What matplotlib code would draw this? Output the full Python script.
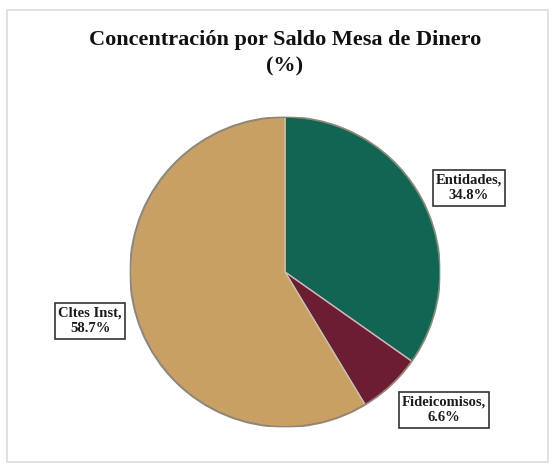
import matplotlib
matplotlib.use("Agg")
import matplotlib.pyplot as plt
from matplotlib.patches import Rectangle, Circle

categories = ["Entidades", "Fideicomisos", "Cltes Inst"]
values = [34.8, 6.6, 58.7]
colors = ["#136553", "#6d1d31", "#c9a064"]
title = "Concentración por Saldo Mesa de Dinero\n(%)"

W, H = 554, 466
fig = plt.figure(figsize=(W / 100, H / 100), dpi=100)
fig.patch.set_facecolor("white")

# outer chart frame
fig.patches.append(Rectangle((7 / W, 4 / H), 541 / W, 452 / H, transform=fig.transFigure,
                             fill=False, edgecolor="#dcdcdc", linewidth=1.2))

cx, cy, r = 285, 272, 155
ax = fig.add_axes([(cx - r) / W, 1 - (cy + r) / H, 2 * r / W, 2 * r / H])
wedges, _ = ax.pie(values, colors=colors, startangle=90, counterclock=False,
                   wedgeprops=dict(edgecolor="#c0c0c0", linewidth=1.0))
for w in wedges:
    w.set_zorder(2)
ax.set_xlim(-1, 1)
ax.set_ylim(-1, 1)

# shadow ring
ax.add_patch(Circle((0, 0), 1.0, fill=False, edgecolor="#6f6048", linewidth=1.4, alpha=0.6, zorder=3))

label_pos = [(1.187, 0.542), (1.026, -0.89), (-1.258, -0.316)]
for cat, v, (x, y) in zip(categories, values, label_pos):
    ax.text(x, y, f"{cat},\n{v:.1f}%", ha="center", va="center", fontsize=10.5,
            fontweight="bold", family="Liberation Serif", color="#1a1a1a", linespacing=1.3,
            bbox=dict(boxstyle="square,pad=0.22", facecolor="white", edgecolor="#333333", linewidth=1.2),
            zorder=5, clip_on=False)

fig.text(285 / W, 1 - 53 / H, title, ha="center", va="center", fontsize=16,
         fontweight="bold", family="Liberation Serif", color="#111111", linespacing=1.4)

fig.savefig("out.png", dpi=100, facecolor="white")
